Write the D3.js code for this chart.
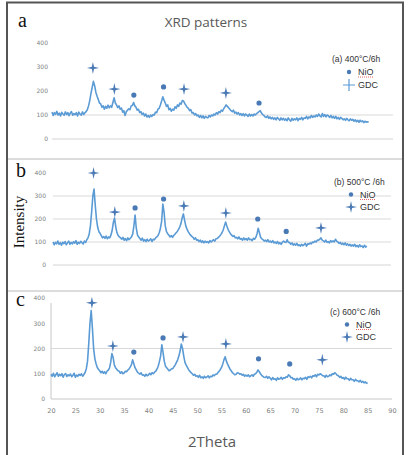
<!DOCTYPE html>
<html>
<head>
<meta charset="utf-8">
<script src="https://cdn.jsdelivr.net/npm/d3@7"></script>
<style>
html,body{margin:0;padding:0;background:#fff;}
svg{display:block;}
</style>
</head>
<body>
<svg id="chart" width="413" height="455"></svg>
<script>
// ---------- DATA ----------
// 2θ sampling grid: 20° to 85° every 0.25°
const twoTheta = d3.range(261).map(i => 20 + i * 0.25);

const intensityA = [
112,98,110,103, 115,100,108,96, 111,104,99,113, 102,110,97,108, 114,99,106,101,
110,96,112,104, 99,113,102,109, 114,122,138,160, 190,215,240,222, 195,178,165,150,
146,132,138,124, 136,128,141,130, 138,132,152,172, 150,142,131,138, 124,129,112,118,
98,114,120,126, 122,138,140,152, 138,132,120,124, 110,114,102,108, 96,104,92,98,
90,100,94,102, 100,112,110,124, 128,142,158,176, 162,150,136,142, 122,128,116,124,
120,134,128,142, 136,150,145,160, 158,148,140,132, 128,118,122,108, 110,100,106,96,
100,90,98,88, 96,86,94,90, 88,98,92,100, 96,104,100,110, 104,114,110,120,
116,126,134,142, 136,130,124,118, 114,120,108,112, 104,110,100,106, 98,106,96,104,
100,94,104,96, 102,96,104,100, 106,110,114,118, 108,102,98,92, 90,96,86,92,
84,90,82,88, 80,90,84,78, 88,80,86,78, 84,76,88,80, 74,86,78,84,
80,88,76,86, 82,90,80,88, 86,94,84,92, 88,98,90,96, 92,100,94,104,
96,92,106,94, 102,92,100,96, 90,98,88,94, 86,94,84,90, 82,90,86,80,
84,78,86,80, 76,84,78,82, 74,80,72,78, 70,78,72,76, 68,74,70,72, 70
];

const intensityB = [
100,88,98,92, 104,90,97,86, 99,93,102,88, 96,104,90,98, 92,101,95,106,
90,99,94,103, 97,91,104,98, 110,118,135,170, 230,300,330,260, 200,165,145,138,
128,118,124,116, 126,114,122,118, 130,150,185,204, 165,140,128,122, 118,112,120,108,
115,106,118,110, 116,122,134,170, 217,160,130,122, 115,108,117,104, 110,102,112,104,
108,114,102,112, 110,118,122,128, 140,160,190,265, 230,170,145,136, 130,122,128,120,
128,134,140,146, 155,165,180,205, 222,195,170,156, 145,136,130,124, 120,112,118,108,
110,102,108,98, 105,96,104,98, 102,96,106,100, 105,110,104,114, 115,120,125,132,
140,152,170,187, 170,155,145,136, 130,124,128,118, 120,114,122,112, 115,108,118,110,
115,108,118,110, 112,106,116,112, 120,135,160,140, 120,114,110,104, 108,102,110,100,
104,98,106,96, 100,94,102,92, 97,90,99,104, 100,98,110,98, 98,90,96,86,
92,86,94,84, 88,82,90,84, 88,94,82,92, 90,96,92,100, 98,104,100,108,
108,112,118,108, 105,100,108,98, 102,96,106,100, 105,100,112,104, 100,94,98,90,
95,88,96,86, 92,84,90,82, 88,82,90,80, 85,78,88,80, 83,76,86,78, 82
];

const intensityC = [
98,90,102,88, 96,104,90,98, 92,100,86,97, 101,89,96,92, 99,88,94,102,
86,95,90,98, 93,100,90,97, 105,120,150,220, 300,350,280,200, 160,140,125,118,
112,104,110,102, 108,100,110,114, 122,145,180,165, 135,124,118,112, 110,102,108,100,
103,110,108,114, 118,126,135,155, 140,124,115,106, 102,98,104,94, 96,90,98,92,
95,102,96,104, 100,106,110,118, 130,148,170,215, 185,150,130,124, 118,112,115,120,
120,128,135,145, 155,170,190,218, 200,170,145,134, 125,116,110,104, 100,94,98,90,
92,86,94,84, 88,82,90,84, 87,92,84,90, 88,95,92,98, 98,104,110,116,
125,138,155,167, 150,138,128,118, 112,104,100,96, 98,104,103,98, 100,94,98,90,
95,90,96,88, 92,96,90,98, 100,106,115,108, 100,94,90,86, 85,90,82,88,
82,76,85,78, 80,74,84,78, 80,86,78,84, 82,88,86,96, 92,84,85,78,
80,74,82,76, 78,84,76,82, 80,86,78,88, 85,90,84,92, 90,96,88,98,
95,100,97,92, 92,86,94,88, 90,96,92,100, 98,104,100,94, 92,86,90,82,
85,78,86,80, 80,74,82,76, 76,70,78,72, 72,68,74,66, 70,64,68,62, 65
];

// phase markers [2θ, intensity]
const gdcA = [[28.4,296],[32.8,208],[47.1,208],[55.7,192]];
const nioA = [[36.8,183],[42.9,217],[62.5,150]];
const gdcB = [[28.4,400],[32.8,230],[47.1,257],[55.8,226],[75.5,161]];
const nioB = [[37.0,248],[42.9,287],[62.4,200],[68.3,146]];
const gdcC = [[28.4,381],[32.7,210],[47.1,246],[55.9,218],[75.7,155]];
const nioC = [[37.0,186],[43.0,242],[62.6,159],[69.0,139]];

const yTicks = [0, 100, 200, 300, 400];
const xTicks = d3.range(20, 91, 5);
const panelLetters = ["a", "b", "c"];
const panelLabels = ["(a)  400°C/6h", "(b) 500°C /6h", "(c)  600°C /6h"];
const legendNames = ["NiO", "GDC"];

// ---------- DRAW ----------
const svg = d3.select("#chart");
const lineColor = "#5b9bd5";
const markColor = "#4a7ab5";

// outer frame
svg.append("rect").attr("x", 7).attr("y", 2.5).attr("width", 396).attr("height", 460)
  .attr("fill", "none").attr("stroke", "#555").attr("stroke-width", 2);
// panel separators
[159, 291].forEach(y => svg.append("line").attr("x1", 8).attr("x2", 402)
  .attr("y1", y).attr("y2", y).attr("stroke", "#d0d0d0").attr("stroke-width", 1.5));

svg.append("text").attr("x", 206).attr("y", 27).attr("text-anchor", "middle")
  .attr("font-family", "Open Sans, sans-serif").attr("font-size", 13.5).attr("fill", "#595959")
  .text("XRD patterns");

svg.append("text").attr("transform", "translate(24,222) rotate(-90)").attr("text-anchor", "middle")
  .attr("font-family", "Liberation Serif, serif").attr("font-size", 15).attr("fill", "#111")
  .text("Intensity");

svg.append("text").attr("x", 212).attr("y", 447).attr("text-anchor", "middle")
  .attr("font-family", "Open Sans, sans-serif").attr("font-size", 15).attr("fill", "#595959")
  .text("2Theta");

const panels = [
  {series: intensityA, gdc: gdcA, nio: nioA, x0: 52, x1: 393, y0: 139, y4: 43, grid: [0, 100],
   letter: [18, 27], labelEnd: 48, legend: [332, 62], legDy: 13, thinPlus: true},
  {series: intensityB, gdc: gdcB, nio: nioB, x0: 53, x1: 391, y0: 265, y4: 173, grid: [0, 100, 200, 300],
   letter: [16, 177], labelEnd: 46, legend: [334, 185], legDy: 12.5, thinPlus: false},
  {series: intensityC, gdc: gdcC, nio: nioC, x0: 51, x1: 392, y0: 399, y4: 298, grid: [200],
   letter: [16, 306], labelEnd: 45, legend: [330, 315], legDy: 12.5, thinPlus: false, xAxis: true}
];

function starPath(s, w) {
  return `M0,${-s}L${w},${-w}L${s},0L${w},${w}L0,${s}L${-w},${w}L${-s},0L${-w},${-w}Z`;
}

panels.forEach((p, i) => {
  const x = d3.scaleLinear().domain([20, 90]).range([p.x0, p.x1]);
  const y = d3.scaleLinear().domain([0, 400]).range([p.y0, p.y4]);
  const g = svg.append("g");

  // gridlines
  g.selectAll(".grid").data(p.grid).join("line")
    .attr("x1", p.x0).attr("x2", p.x1).attr("y1", d => y(d)).attr("y2", d => y(d))
    .attr("stroke", d => d === 0 ? "#d4d4d4" : "#d9d9d9").attr("stroke-width", 1);

  // y tick labels
  const yAxis = d3.axisLeft(y).tickValues(yTicks).tickSize(0).tickPadding(0);
  const ya = g.append("g").attr("transform", `translate(${p.labelEnd},0)`).call(yAxis);
  ya.select(".domain").remove();
  ya.selectAll("text").attr("font-family", "DejaVu Sans, sans-serif").attr("font-size", 6)
    .attr("fill", "#7f7f7f");

  if (p.xAxis) {
    g.append("line").attr("x1", p.x0).attr("x2", p.x0).attr("y1", y(380)).attr("y2", p.y0)
      .attr("stroke", "#c8c8c8").attr("stroke-width", 1);
    g.append("line").attr("x1", p.x0).attr("x2", p.x1).attr("y1", p.y0).attr("y2", p.y0)
      .attr("stroke", "#c8c8c8").attr("stroke-width", 1);
    const xa = g.append("g").attr("transform", `translate(0,${p.y0 + 9})`)
      .call(d3.axisBottom(x).tickValues(xTicks).tickSize(0).tickPadding(0));
    xa.select(".domain").remove();
    xa.selectAll("text").attr("font-family", "DejaVu Sans, sans-serif").attr("font-size", 6.5)
      .attr("fill", "#7f7f7f");
  }

  // pattern line
  const line = d3.line().x((d, k) => x(twoTheta[k])).y(d => y(d));
  g.append("path").datum(p.series).attr("d", line).attr("fill", "none")
    .attr("stroke", lineColor).attr("stroke-width", 1.6).attr("stroke-linejoin", "round");

  // markers
  g.selectAll(".gdc").data(p.gdc).join("path")
    .attr("transform", d => `translate(${x(d[0])},${y(d[1])})`)
    .attr("d", starPath(6, 1.1)).attr("fill", markColor);
  g.selectAll(".nio").data(p.nio).join("circle")
    .attr("cx", d => x(d[0])).attr("cy", d => y(d[1])).attr("r", 2.6).attr("fill", markColor);

  // panel letter
  svg.append("text").attr("x", p.letter[0]).attr("y", p.letter[1])
    .attr("font-family", "Liberation Serif, serif").attr("font-size", 20).attr("fill", "#111")
    .text(panelLetters[i]);

  // legend
  const lx = p.legend[0], ly = p.legend[1];
  svg.append("text").attr("x", lx).attr("y", ly)
    .attr("font-family", "Liberation Sans, Arial, sans-serif").attr("font-size", 8.5).attr("fill", "#333")
    .text(panelLabels[i]);
  const mx = lx + 17, tx = lx + 26;
  svg.append("circle").attr("cx", mx).attr("cy", ly + p.legDy - 3).attr("r", 2.2).attr("fill", markColor);
  svg.append("text").attr("x", tx).attr("y", ly + p.legDy)
    .attr("font-family", "Liberation Sans, Arial, sans-serif").attr("font-size", 9).attr("fill", "#333")
    .text(legendNames[0]);
  svg.append("line").attr("x1", tx).attr("x2", tx + 16).attr("y1", ly + p.legDy + 2).attr("y2", ly + p.legDy + 2)
    .attr("stroke", "#e04040").attr("stroke-width", 0.8).attr("stroke-dasharray", "1,1");
  if (p.thinPlus) {
    svg.append("path").attr("d", `M${mx - 6},${ly + 2 * p.legDy - 3}h12M${mx},${ly + 2 * p.legDy - 9}v12`)
      .attr("stroke", lineColor).attr("stroke-width", 1.2);
  } else {
    svg.append("path").attr("transform", `translate(${mx},${ly + 2 * p.legDy - 3})`)
      .attr("d", starPath(6, 1.1)).attr("fill", markColor);
  }
  svg.append("text").attr("x", tx).attr("y", ly + 2 * p.legDy)
    .attr("font-family", "Liberation Sans, Arial, sans-serif").attr("font-size", 9).attr("fill", "#333")
    .text(legendNames[1]);
});
</script>
</body>
</html>
